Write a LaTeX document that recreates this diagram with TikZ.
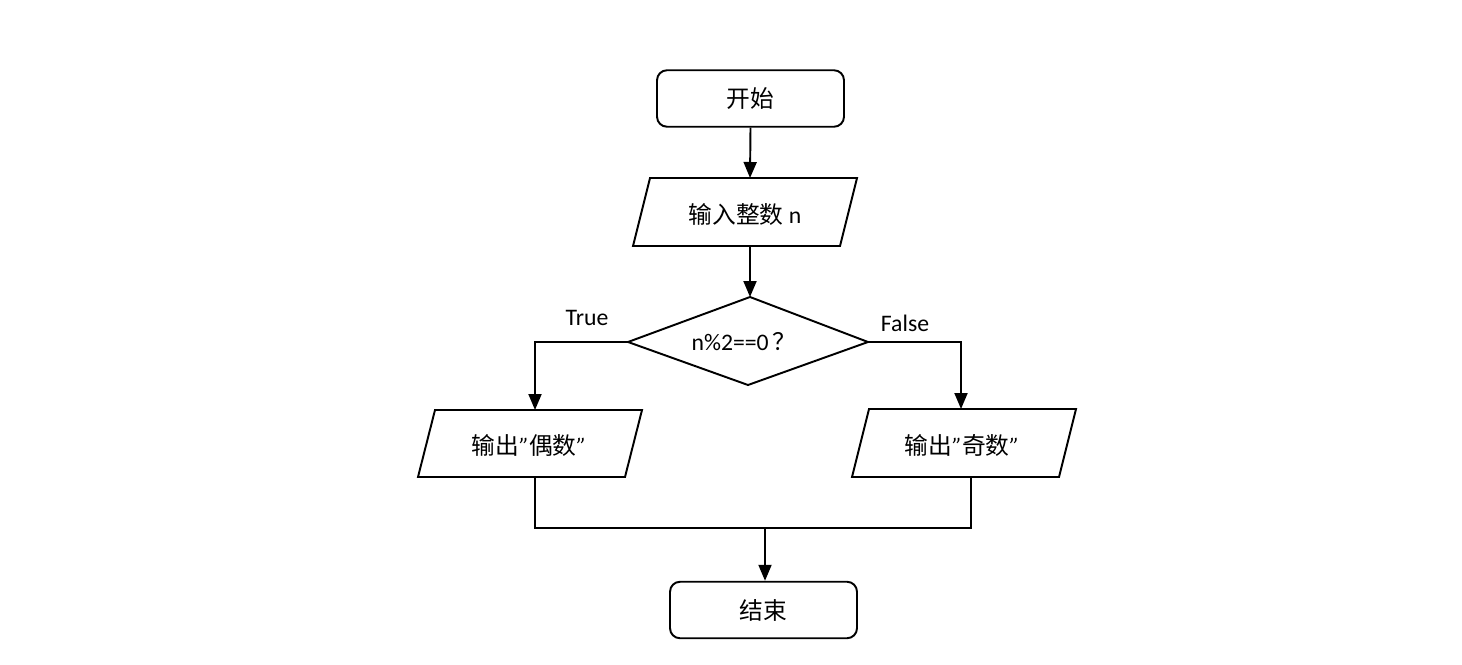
\documentclass[tikz,border=0pt]{standalone}
\usepackage{fontspec}
\setmainfont{Carlito}
\newfontfamily\cjk{Noto Sans CJK SC}
\usetikzlibrary{arrows.meta}
\begin{document}
\begin{tikzpicture}[x=0.02cm,y=-0.02cm,line width=1.1pt,
  font=\fontsize{13.5}{15}\selectfont,
  >={Triangle[length=0.32cm,width=0.26cm]},
  term/.style={draw,rounded corners=0.2cm,minimum width=3.74cm,minimum height=1.13cm,inner sep=0pt},
  txt/.style={inner sep=0pt},
  shapeline/.style={draw,line join=miter}]
\useasboundingbox (0,0) rectangle (1462,665);

% start
\node[term] (start) at (750.5,98.5) {\cjk 开始};

% input parallelogram
\coordinate (inTL) at (650,178); \coordinate (inTR) at (857,178);
\coordinate (inBR) at (840,246); \coordinate (inBL) at (633,246);
\draw[shapeline] (inTL) -- (inTR) -- (inBR) -- (inBL) -- cycle;
\node[txt] (input) at (745,214) {{\cjk 输入整数} n};
\coordinate (inTop) at (750,178); \coordinate (inBot) at (750,246);

% decision diamond
\coordinate (dL) at (628,342); \coordinate (dT) at (750,297);
\coordinate (dR) at (868,342); \coordinate (dB) at (748,385);
\draw[shapeline] (dL) -- (dT) -- (dR) -- (dB) -- cycle;
\node[txt] (cond) at (744,342) {n\%2==0\,{\cjk ？}};

% left output
\coordinate (lTL) at (435,410); \coordinate (lTR) at (642,410);
\coordinate (lBR) at (625,477); \coordinate (lBL) at (418,477);
\draw[shapeline] (lTL) -- (lTR) -- (lBR) -- (lBL) -- cycle;
\node[txt] (even) at (529,445) {{\cjk 输出}\textit{”}{\cjk 偶数}\textit{”}};
\coordinate (lTop) at (535,410); \coordinate (lBot) at (535,477);

% right output
\coordinate (rTL) at (869,409); \coordinate (rTR) at (1076,409);
\coordinate (rBR) at (1059,477); \coordinate (rBL) at (852,477);
\draw[shapeline] (rTL) -- (rTR) -- (rBR) -- (rBL) -- cycle;
\node[txt] (odd) at (962,445) {{\cjk 输出}\textit{”}{\cjk 奇数}\textit{”}};
\coordinate (rTop) at (961,409); \coordinate (rBot) at (971,477);

% end
\node[term] (stop) at (763.5,610) {\cjk 结束};

% labels
\node[txt] (tlab) at (587,318) {True};
\node[txt] (flab) at (905,323) {False};

% connectors
\draw[->] (start.south) -- (inTop);
\draw[->] (inBot) -- (dT);
\draw[->] (dL) -| (lTop);
\draw[->] (dR) -| (rTop);
\coordinate (mL) at (535,528); \coordinate (mR) at (971,528);
\coordinate (mC) at (765,527);
\draw (lBot) -- (mL) -- (mR) -- (rBot);
\draw[->] (mC) -- (mC |- stop.north);
\end{tikzpicture}
\end{document}
